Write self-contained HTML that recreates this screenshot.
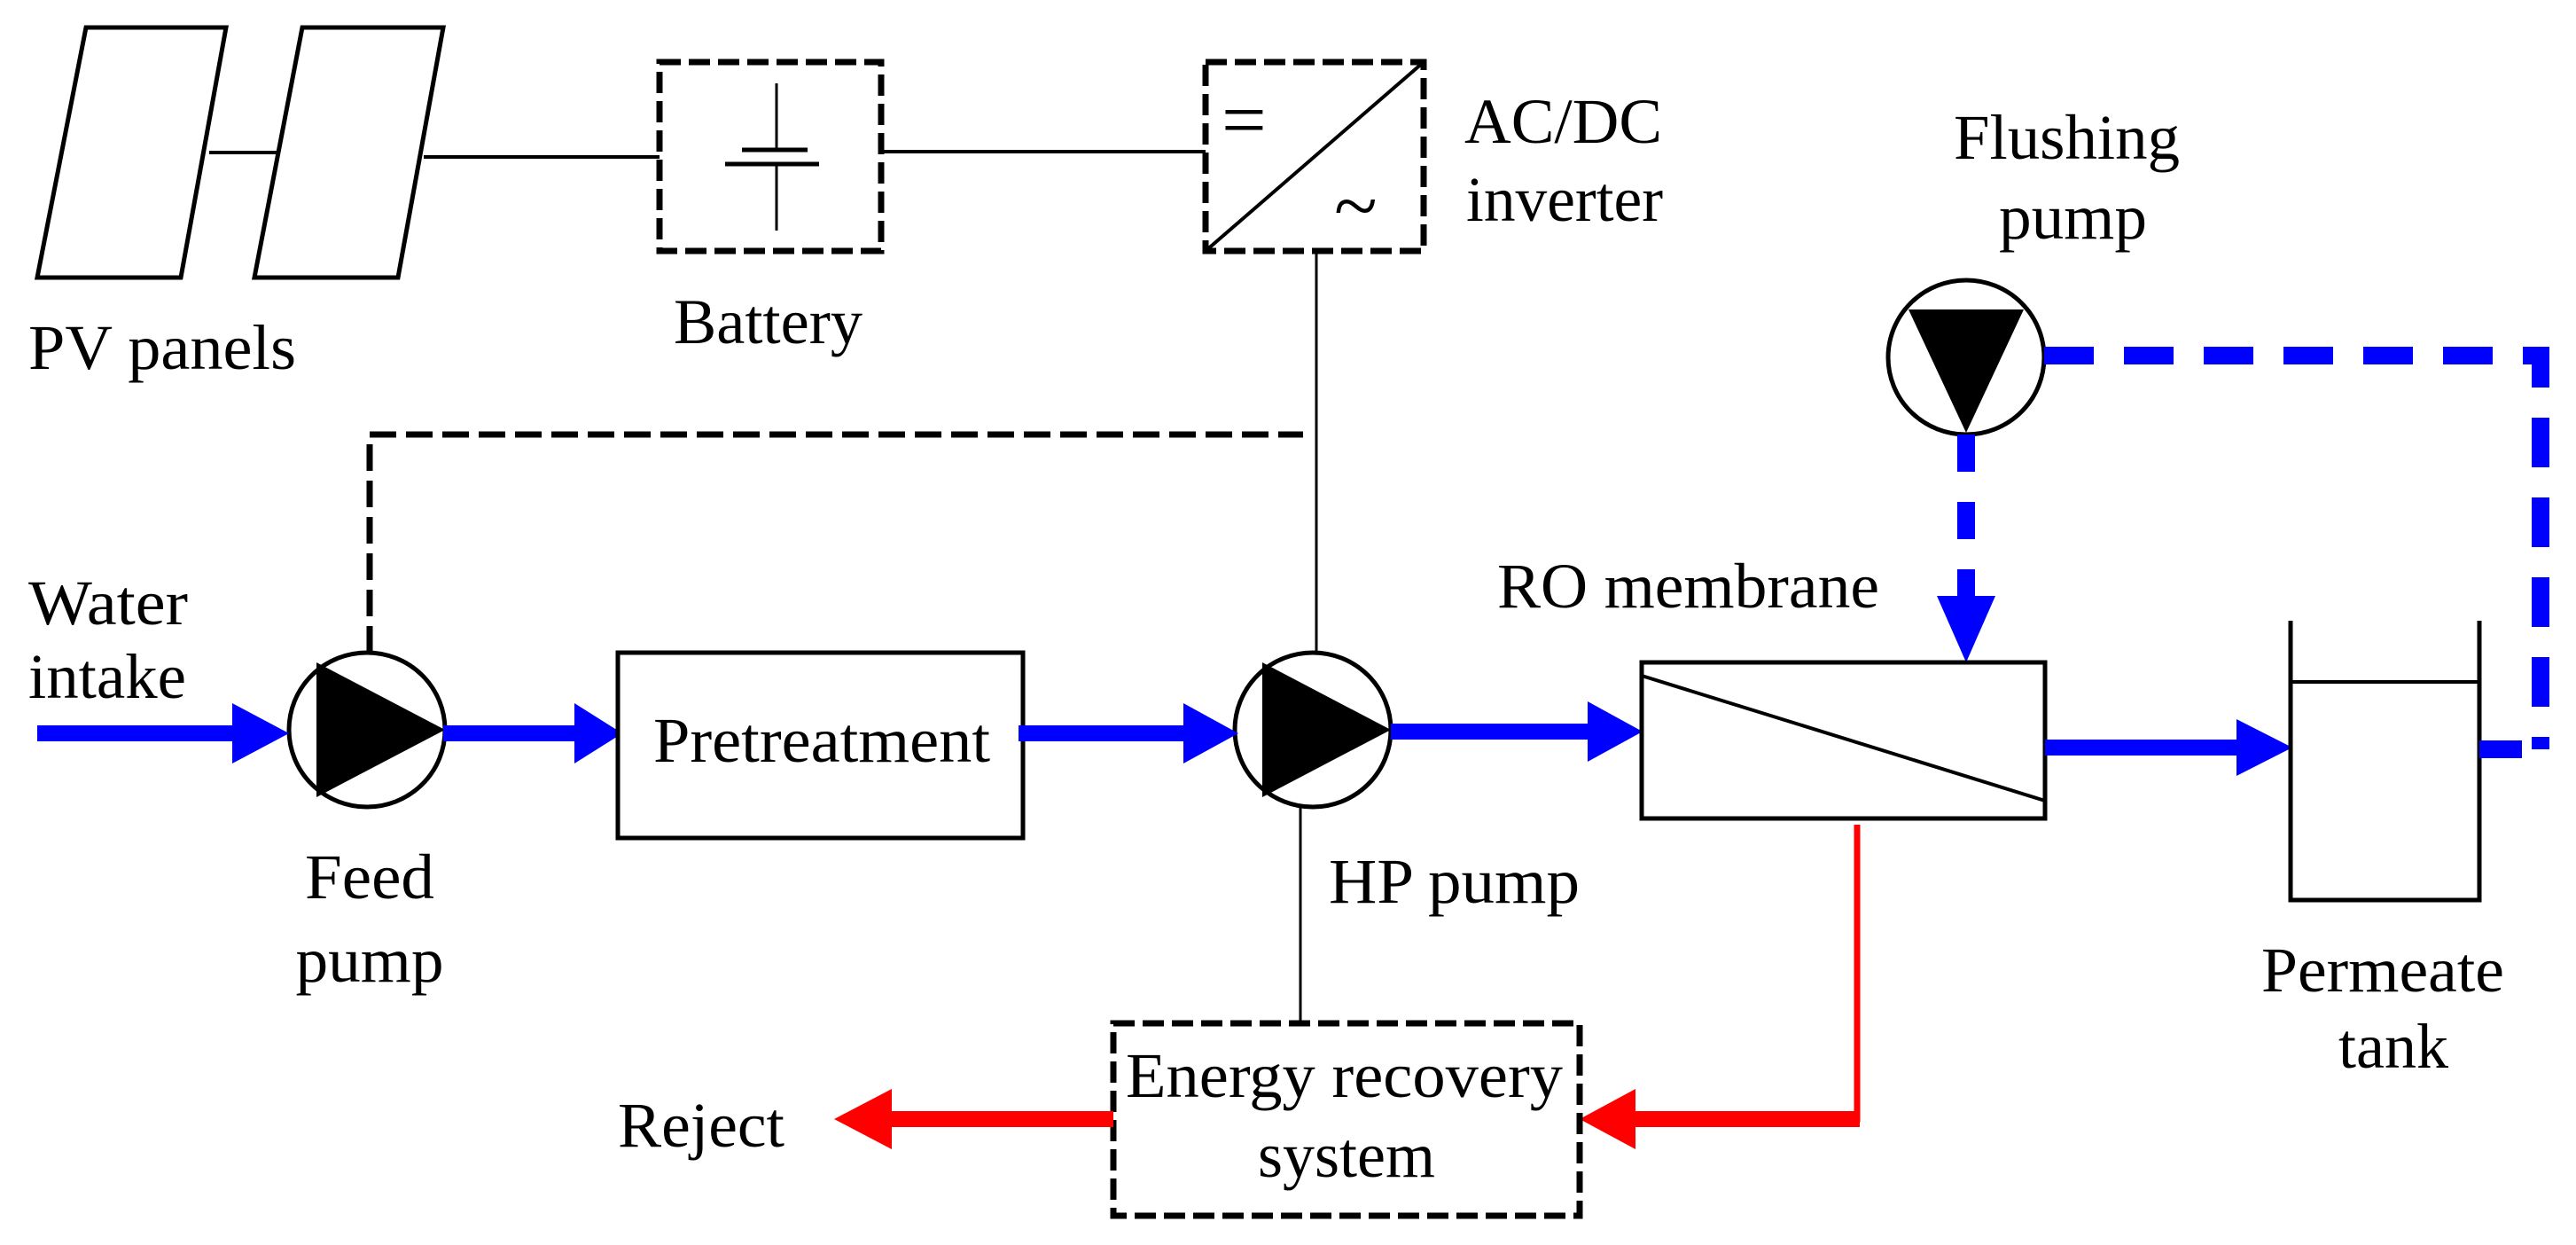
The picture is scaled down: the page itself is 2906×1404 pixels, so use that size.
<!DOCTYPE html>
<html><head><meta charset="utf-8"><style>html,body{margin:0;padding:0;background:#fff}svg{display:block}</style></head>
<body>
<svg width="2906" height="1404" viewBox="0 0 2906 1404" xmlns="http://www.w3.org/2000/svg" font-family="Liberation Serif, serif" font-size="72" fill="#000">
<rect width="2906" height="1404" fill="#fff"/>
<!-- PV panels -->
<polygon points="97,31 255,31 204,313 42,313" fill="none" stroke="#000" stroke-width="5"/>
<polygon points="341,31 500,31 449,313 287,313" fill="none" stroke="#000" stroke-width="5"/>
<line x1="236" y1="172" x2="315" y2="172" stroke="#000" stroke-width="4"/>
<line x1="478" y1="177" x2="744" y2="177" stroke="#000" stroke-width="4"/>
<!-- Battery -->
<rect x="744" y="70" width="250" height="213" fill="none" stroke="#000" stroke-width="7" stroke-dasharray="24 9"/>
<line x1="876" y1="94" x2="876" y2="169" stroke="#000" stroke-width="3"/>
<line x1="876" y1="185" x2="876" y2="260" stroke="#000" stroke-width="3"/>
<line x1="837" y1="169" x2="911" y2="169" stroke="#000" stroke-width="5"/>
<line x1="818" y1="185" x2="924" y2="185" stroke="#000" stroke-width="5"/>
<line x1="994" y1="171" x2="1360" y2="171" stroke="#000" stroke-width="4"/>
<!-- Inverter -->
<rect x="1360" y="70" width="246" height="213" fill="none" stroke="#000" stroke-width="7" stroke-dasharray="24 9"/>
<line x1="1360" y1="283" x2="1606" y2="70" stroke="#000" stroke-width="4"/>
<text x="1378" y="165" font-size="90">=</text>
<text x="1505" y="262" font-size="90">~</text>
<text x="1652" y="161" textLength="223" lengthAdjust="spacingAndGlyphs">AC/DC</text>
<text x="1654" y="249" textLength="222" lengthAdjust="spacingAndGlyphs">inverter</text>
<text x="32" y="416" textLength="302" lengthAdjust="spacingAndGlyphs">PV panels</text>
<text x="760" y="387" textLength="213" lengthAdjust="spacingAndGlyphs">Battery</text>
<!-- Feed pump / HP pump circles first -->
<ellipse cx="414" cy="823" rx="88" ry="87" fill="#fff" stroke="#000" stroke-width="5"/>
<ellipse cx="1481" cy="823" rx="88" ry="87" fill="#fff" stroke="#000" stroke-width="5"/>
<!-- control lines -->
<line x1="1485" y1="283" x2="1485" y2="737" stroke="#000" stroke-width="3"/>
<polyline points="417,736 417,490 1470,490" fill="none" stroke="#000" stroke-width="7" stroke-dasharray="30 11"/>
<line x1="1467" y1="910" x2="1467" y2="1154" stroke="#000" stroke-width="3"/>
<!-- Flushing pump -->
<text x="2204" y="179" textLength="255" lengthAdjust="spacingAndGlyphs">Flushing</text>
<text x="2255" y="269" textLength="167" lengthAdjust="spacingAndGlyphs">pump</text>
<ellipse cx="2218" cy="403" rx="88" ry="87" fill="#fff" stroke="#000" stroke-width="5"/>
<polygon points="2153,349 2283,349 2218,488" fill="#000"/>
<polyline points="2306,401 2866,401 2866,845" fill="none" stroke="#0000ff" stroke-width="20" stroke-dasharray="56 34"/>
<line x1="2218" y1="490" x2="2218" y2="672" stroke="#0000ff" stroke-width="20" stroke-dasharray="42 34"/>
<polygon points="2185,672 2251,672 2218,747" fill="#0000ff"/>
<text x="1689" y="685" textLength="431" lengthAdjust="spacingAndGlyphs">RO membrane</text>
<!-- Water intake -->
<text x="32" y="704" textLength="180" lengthAdjust="spacingAndGlyphs">Water</text>
<text x="32" y="787" textLength="178" lengthAdjust="spacingAndGlyphs">intake</text>
<line x1="42" y1="827" x2="265" y2="827" stroke="#0000ff" stroke-width="18"/>
<polygon points="262,793 262,861 326,827" fill="#0000ff"/>
<!-- Feed pump -->
<polygon points="357,747 357,899 502,823" fill="#000"/>
<text x="417" y="1013" text-anchor="middle" textLength="146" lengthAdjust="spacingAndGlyphs">Feed</text>
<text x="417" y="1107" text-anchor="middle" textLength="167" lengthAdjust="spacingAndGlyphs">pump</text>
<line x1="500" y1="827" x2="652" y2="827" stroke="#0000ff" stroke-width="18"/>
<polygon points="648,793 648,861 702,827" fill="#0000ff"/>
<!-- Pretreatment -->
<rect x="697" y="736" width="457" height="209" fill="#fff" stroke="#000" stroke-width="5"/>
<text x="737" y="859" textLength="380" lengthAdjust="spacingAndGlyphs">Pretreatment</text>
<line x1="1149" y1="827" x2="1338" y2="827" stroke="#0000ff" stroke-width="18"/>
<polygon points="1335,793 1335,861 1397,827" fill="#0000ff"/>
<!-- HP pump -->
<polygon points="1424,747 1424,899 1569,823" fill="#000"/>
<text x="1499" y="1018" textLength="283" lengthAdjust="spacingAndGlyphs">HP pump</text>
<line x1="1569" y1="825" x2="1794" y2="825" stroke="#0000ff" stroke-width="18"/>
<polygon points="1791,791 1791,859 1853,825" fill="#0000ff"/>
<!-- RO membrane -->
<rect x="1852" y="747" width="455" height="176" fill="#fff" stroke="#000" stroke-width="5"/>
<line x1="1852" y1="762" x2="2307" y2="903" stroke="#000" stroke-width="4"/>
<line x1="2307" y1="843" x2="2526" y2="843" stroke="#0000ff" stroke-width="18"/>
<polygon points="2523,811 2523,875 2586,843" fill="#0000ff"/>
<!-- Tank -->
<polyline points="2584,700 2584,1015 2797,1015 2797,700" fill="none" stroke="#000" stroke-width="5"/>
<line x1="2584" y1="769" x2="2797" y2="769" stroke="#000" stroke-width="4"/>
<line x1="2797" y1="845" x2="2845" y2="845" stroke="#0000ff" stroke-width="20"/>
<text x="2551" y="1118" textLength="274" lengthAdjust="spacingAndGlyphs">Permeate</text>
<text x="2700" y="1204" text-anchor="middle" textLength="124" lengthAdjust="spacingAndGlyphs">tank</text>
<!-- Reject line -->
<polyline points="2095,930 2095,1262 1840,1262" fill="none" stroke="#ff0000" stroke-width="7"/>
<line x1="2098" y1="1262" x2="1840" y2="1262" stroke="#ff0000" stroke-width="18"/>
<polygon points="1845,1228 1845,1296 1782,1262" fill="#ff0000"/>
<!-- ERS -->
<rect x="1256" y="1154" width="526" height="217" fill="#fff" stroke="#000" stroke-width="7" stroke-dasharray="24 9"/>
<text x="1270" y="1237" textLength="493" lengthAdjust="spacingAndGlyphs">Energy recovery</text>
<text x="1519" y="1327" text-anchor="middle" textLength="200" lengthAdjust="spacingAndGlyphs">system</text>
<line x1="1256" y1="1262" x2="1003" y2="1262" stroke="#ff0000" stroke-width="18"/>
<polygon points="1006,1228 1006,1296 941,1262" fill="#ff0000"/>
<text x="697" y="1293" textLength="188" lengthAdjust="spacingAndGlyphs">Reject</text>
</svg>
</body></html>
